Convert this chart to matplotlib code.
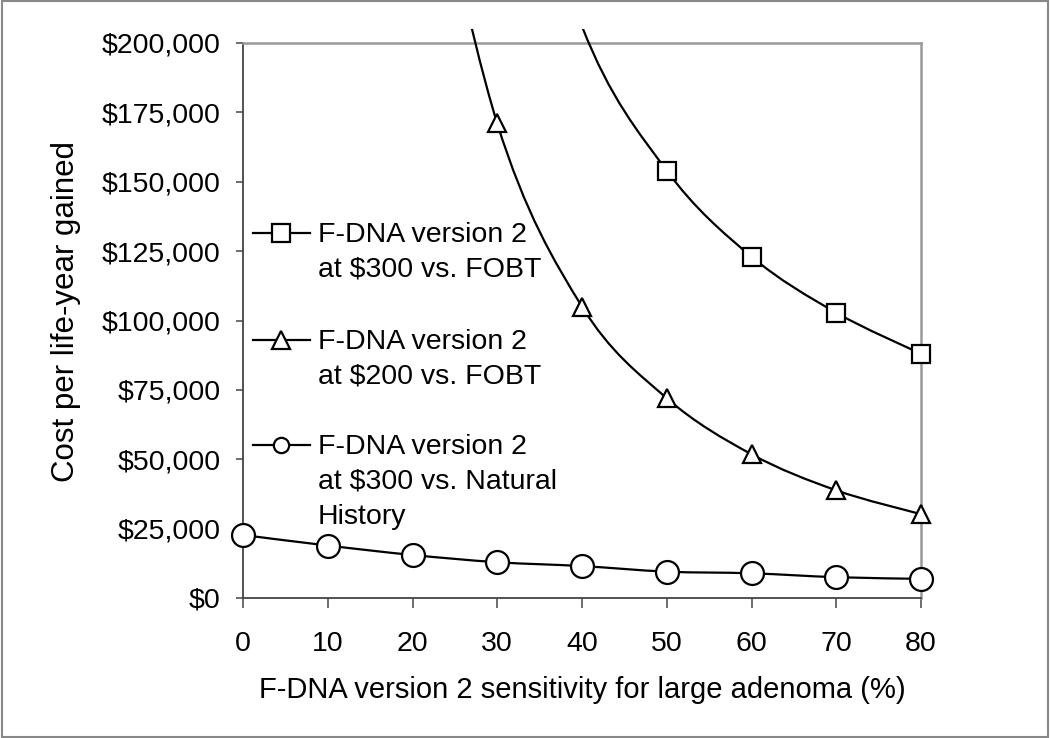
import numpy as np
import matplotlib
matplotlib.use("Agg")
import matplotlib.pyplot as plt
from matplotlib.path import Path
from matplotlib.patches import PathPatch, Rectangle
from matplotlib.ticker import FuncFormatter

plt.rcParams["font.family"] = ["Liberation Sans", "DejaVu Sans"]

# data (values above $200,000 are clipped in the chart)
sens = [0, 10, 20, 30, 40, 50, 60, 70, 80]
sq_x = [30, 40, 50, 60, 70, 80]
sq_cost = [310000, 206000, 154000, 123000, 102800, 88000]
tri_x = [20, 30, 40, 50, 60, 70, 80]
tri_cost = [300000, 171000, 105000, 72000, 51800, 38800, 30200]
circ_cost = [22700, 18900, 15500, 12900, 11500, 9500, 8900, 7500, 6900]

labels = [
    "F-DNA version 2\nat \\$300 vs. FOBT",
    "F-DNA version 2\nat \\$200 vs. FOBT",
    "F-DNA version 2\nat \\$300 vs. Natural\nHistory",
]
y_ticks = [0, 25000, 50000, 75000, 100000, 125000, 150000, 175000, 200000]
x_ticks = [0, 10, 20, 30, 40, 50, 60, 70, 80]
FS = 20.5


def smooth_path(xs, ys):
    # Excel-style smoothed line: cubic Bezier segments through every point
    p = np.column_stack([xs, ys]).astype(float)
    ext = np.vstack([p[0], p, p[-1]])
    verts = [p[0]]
    codes = [Path.MOVETO]
    for i in range(len(p) - 1):
        c1 = ext[i + 1] + (ext[i + 2] - ext[i]) / 6
        c2 = ext[i + 2] - (ext[i + 3] - ext[i + 1]) / 6
        verts += [c1, c2, ext[i + 2]]
        codes += [Path.CURVE4] * 3
    return Path(verts, codes)


fig = plt.figure(figsize=(10.5, 7.38), dpi=100)
ax = fig.add_axes([243 / 1050, 1 - 598 / 738, 678 / 1050, 555 / 738])
ax.set_xlim(0, 80)
ax.set_ylim(0, 200000)

clip = Rectangle((-10, -20000), 100, 225000, transform=ax.transData)

series = [
    (sq_x, sq_cost, "s", 13),
    (tri_x, tri_cost, "^", 13),
    (sens, circ_cost, "o", 16.5),
]
for xs, ys, mk, ms in series:
    patch = PathPatch(smooth_path(xs, ys), fill=False, edgecolor="black",
                      lw=1.6, zorder=3, clip_on=True)
    ax.add_patch(patch)
    patch.set_clip_path(clip)
    xs_a, ys_a = np.array(xs), np.array(ys)
    keep = ys_a <= 200000
    ax.plot(xs_a[keep], ys_a[keep], linestyle="none", marker=mk, ms=ms,
            mfc="white", mec="black", mew=1.6, clip_on=False, zorder=4)

# legend drawn inside the axes, handle aligned with the first label line
leg_y = [(598 - 233) / 555, (598 - 340) / 555, (598 - 445) / 555]
leg_ms = [13, 13, 11]
for (xs, ys, mk, ms), lab, ly, lms in zip(series, labels, leg_y, leg_ms):
    ax.plot([10 / 678, 67 / 678], [ly, ly], color="black", lw=1.6,
            transform=ax.transAxes, clip_on=False, zorder=4)
    ax.plot([38 / 678], [ly], marker=mk, ms=lms, mfc="white", mec="black",
            mew=1.6, transform=ax.transAxes, clip_on=False, zorder=5)
    ax.text(75 / 678, ly + 11 / 555, lab, transform=ax.transAxes,
            fontsize=FS, va="top", ha="left", linespacing=1.45)

ax.set_xticks(x_ticks)
ax.set_yticks(y_ticks)
ax.yaxis.set_major_formatter(FuncFormatter(lambda v, p: "${:,.0f}".format(v)))
ax.tick_params(axis="x", length=7, width=1.2, color="#555555", pad=17,
               labelsize=FS)
ax.tick_params(axis="y", length=5, width=1.2, color="#555555", pad=11,
               labelsize=FS)

for side in ["top", "right"]:
    ax.spines[side].set_color("#999999")
    ax.spines[side].set_linewidth(1.8)
for side in ["left", "bottom"]:
    ax.spines[side].set_color("#444444")
    ax.spines[side].set_linewidth(1.3)

ax.set_xlabel("F-DNA version 2 sensitivity for large adenoma (%)", fontsize=21)
ax.set_ylabel("Cost per life-year gained", fontsize=22.5)
ax.xaxis.set_label_coords(0.5, (598 - 676) / 555)
ax.yaxis.set_label_coords((66 - 243) / 678, (598 - 311) / 555)
ax.yaxis.label.set_va("center")

fig.patches.append(Rectangle((0.002, 0.002), 0.996, 0.996, transform=fig.transFigure,
                             fill=False, edgecolor="#888888", lw=1.5))

fig.savefig("out.png", dpi=100)
